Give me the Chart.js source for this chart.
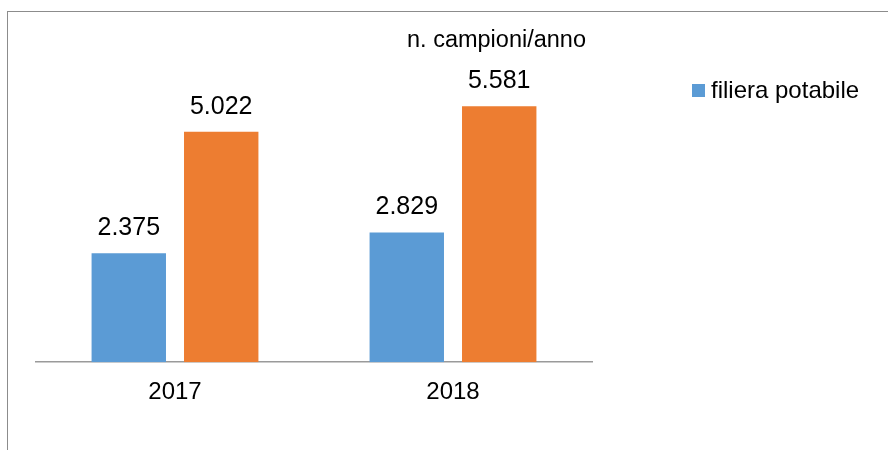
<!DOCTYPE html>
<html>
<head>
<meta charset="utf-8">
<script src="https://cdn.jsdelivr.net/npm/chart.js@4/dist/chart.umd.min.js"></script>
<style>
  html, body { margin: 0; padding: 0; background: #fff; }
  #wrap { position: relative; width: 888px; height: 450px; overflow: hidden; font-family: "Liberation Sans", Arial, sans-serif; }
  #frame { position: absolute; left: 7px; top: 11px; right: -2px; bottom: -2px; border-left: 1px solid #8c8c8c; border-top: 1px solid #8c8c8c; }
  #title { position: absolute; left: 407px; top: 26px; font-size: 23.5px; color: #000; white-space: nowrap; }
  #legend { position: absolute; left: 692px; top: 76px; font-size: 24px; color: #000; white-space: nowrap; }
  #legend .item { display: flex; align-items: center; }
  #legend .box { width: 13px; height: 13px; margin-right: 6px; }
  canvas { position: absolute; left: 0; top: 0; }
</style>
</head>
<body>
<div id="wrap">
  <div id="frame"></div>
  <canvas id="chart" width="888" height="450"></canvas>
  <div id="title">n. campioni/anno</div>
  <div id="legend"></div>
</div>
<script>
// Data
const years = ['2017', '2018'];
const potabileValues = [2375, 2829];
const secondValues = [5022, 5581];
const seriesLabels = ['filiera potabile', ''];
const seriesColors = ['#5B9BD5', '#ED7D31'];

const fontFamily = '"Liberation Sans", Arial, sans-serif';

// Italian thousands separator
function fmt(v) {
    return v.toLocaleString('it-IT');
}

// Value labels above bars
const valueLabels = {
    id: 'valueLabels',
    afterDatasetsDraw(chart) {
        const ctx = chart.ctx;
        ctx.save();
        ctx.font = '25px ' + fontFamily;
        ctx.fillStyle = '#000';
        ctx.textAlign = 'center';
        ctx.textBaseline = 'middle';
        chart.data.datasets.forEach((ds, i) => {
            chart.getDatasetMeta(i).data.forEach((bar, j) => {
                ctx.fillText(fmt(ds.data[j]), bar.x, bar.y - 25);
            });
        });
        ctx.restore();
    }
};

const chart = new Chart(document.getElementById('chart').getContext('2d'), {
    type: 'bar',
    data: {
        labels: years,
        datasets: [
            { label: seriesLabels[0], data: potabileValues, backgroundColor: seriesColors[0] },
            { label: seriesLabels[1], data: secondValues, backgroundColor: seriesColors[1] }
        ]
    },
    options: {
        responsive: false,
        animation: false,
        layout: { padding: { left: 36, right: 296, top: 87, bottom: 27 } },
        datasets: { bar: { categoryPercentage: 0.665, barPercentage: 0.805 } },
        plugins: {
            legend: { display: false },
            tooltip: { enabled: false }
        },
        scales: {
            x: {
                grid: { display: false, drawTicks: false },
                border: { display: true, color: '#9a9a9a', width: 1.5 },
                ticks: { color: '#000', padding: 16, font: { size: 24, family: fontFamily } }
            },
            y: {
                display: false,
                min: 0,
                max: 6000
            }
        }
    },
    plugins: [valueLabels]
});

// HTML legend, only for named series
const legendEl = document.getElementById('legend');
chart.data.datasets.filter(ds => ds.label).forEach(ds => {
    const item = document.createElement('div');
    item.className = 'item';
    item.innerHTML = '<span class="box" style="background:' + ds.backgroundColor + '"></span><span></span>';
    item.lastChild.textContent = ds.label;
    legendEl.appendChild(item);
});
</script>
</body>
</html>
